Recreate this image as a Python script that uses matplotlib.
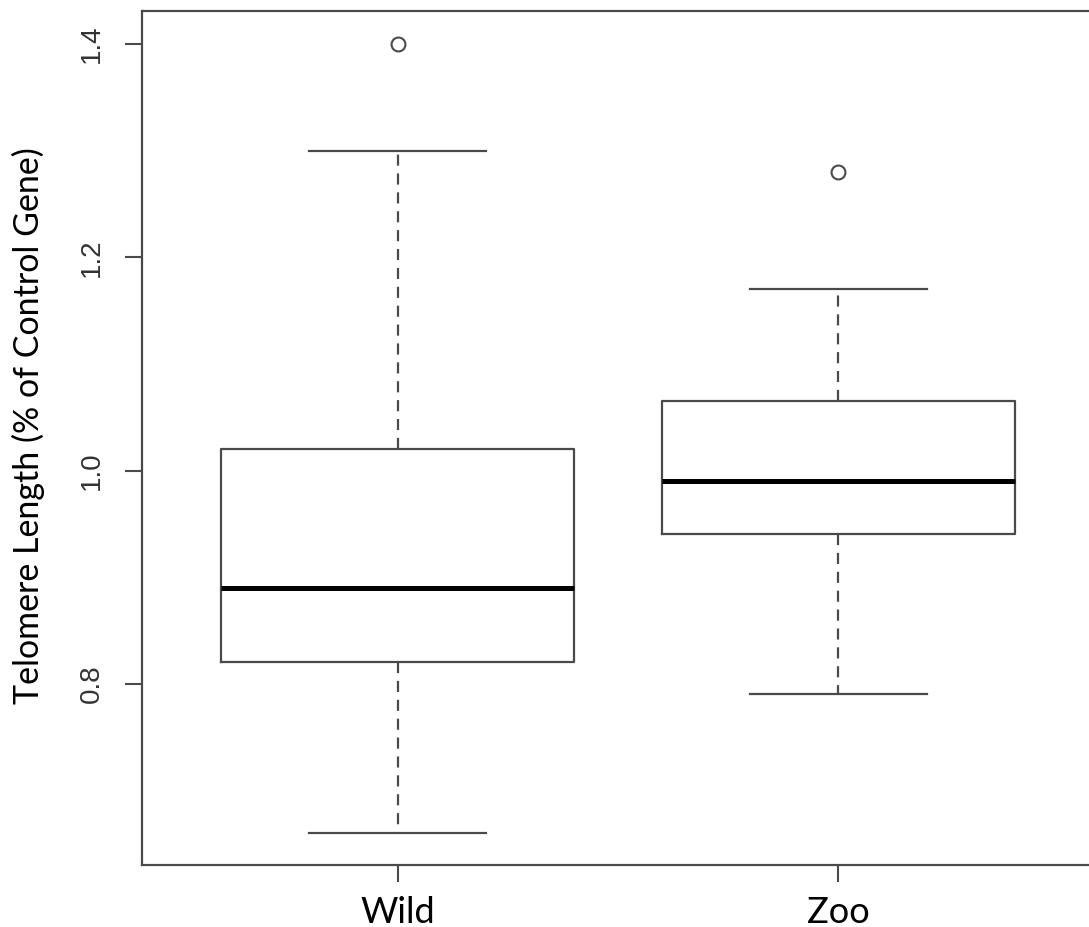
import matplotlib
matplotlib.use("Agg")
import matplotlib.pyplot as plt

# box summary values
groups = ["Wild", "Zoo"]
whis_lo = [0.66, 0.79]
q1 = [0.82, 0.94]
medians = [0.89, 0.99]
q3 = [1.02, 1.065]
whis_hi = [1.30, 1.17]
outliers = [[1.40], [1.28]]

yticks = [0.8, 1.0, 1.2, 1.4]

stats = []
for i, g in enumerate(groups):
    stats.append(dict(label=g, whislo=whis_lo[i], q1=q1[i], med=medians[i],
                      q3=q3[i], whishi=whis_hi[i], fliers=outliers[i]))

line_col = "#4a4a4a"

fig = plt.figure(figsize=(10.89, 9.27), dpi=100)
# R-style plot region, runs past the right edge of the image
ax = fig.add_axes([142/1089, 1 - 865/927, 952/1089, (865 - 11)/927])

ax.bxp(stats, positions=[1, 2], widths=0.8, showfliers=True,
       boxprops=dict(color=line_col, linewidth=1.6),
       whiskerprops=dict(color=line_col, linewidth=1.6, linestyle=(0, (5, 3.5))),
       capprops=dict(color=line_col, linewidth=1.6),
       medianprops=dict(color="black", linewidth=3.6, solid_capstyle="butt"),
       flierprops=dict(marker="o", markersize=10, markerfacecolor="none",
                       markeredgecolor=line_col, markeredgewidth=1.5))

ax.set_xlim(0.42, 2.58)
ax.set_ylim(0.63, 1.431)

for s in ax.spines.values():
    s.set_color(line_col)
    s.set_linewidth(1.6)

ax.set_yticks(yticks)
ax.set_yticklabels([f"{v:.1f}" for v in yticks], rotation=90, va="center",
                   fontsize=20, color="#333333", family="Liberation Sans")
ax.tick_params(axis="y", length=12, width=1.5, color=line_col, pad=15)
ax.tick_params(axis="x", length=12, width=1.5, color=line_col, pad=10)
ax.set_xticks([1, 2])
ax.set_xticklabels(groups, fontsize=26, color="black", family="Lato")

ax.set_ylabel("Telomere Length (% of Control Gene)", fontsize=24.5,
              family="Lato", color="black", labelpad=24)
ax.yaxis.label.set_y(0.515)

fig.savefig("out.png", dpi=100)
